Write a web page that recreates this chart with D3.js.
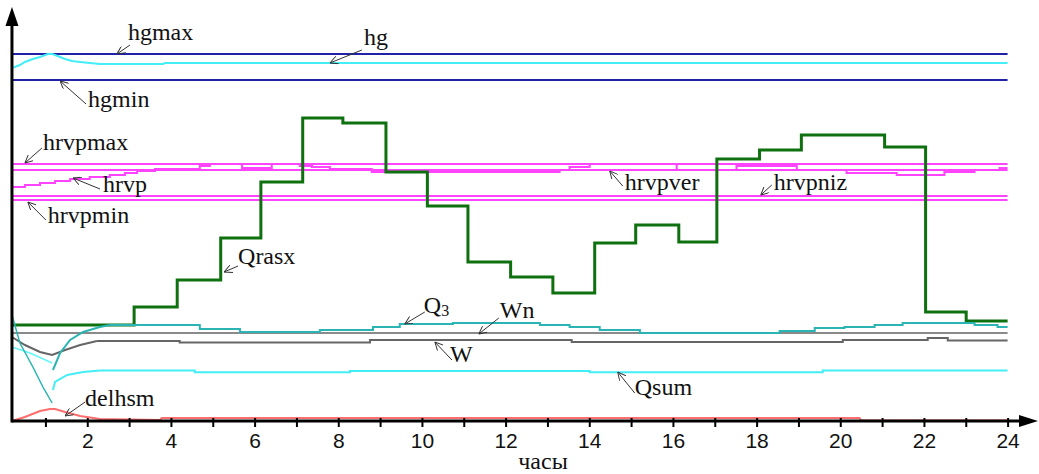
<!DOCTYPE html>
<html>
<head>
<meta charset="utf-8">
<script src="https://cdn.jsdelivr.net/npm/d3@7"></script>
<style>
    body { margin: 0; background: #fff; }
    svg text.note { font-family: "Liberation Serif", "Times New Roman", serif; font-size: 24px; fill: #111; }
    svg .tick text { font-family: "Liberation Sans", Arial, sans-serif; font-size: 21px; fill: #111; }
</style>
</head>
<body>
<svg id="chart" width="1039" height="474"></svg>
<script>
// Hours on the x axis
const tickHours = d3.range(1, 25);
const startHour = 0.2;
const endHour = 24;

// Constant levels (relative units)
const hgmax = 91.75;
const hgmin = 85.25;
const hrvpmax = 64.25;
const hrvpver = 62.75;
const hrvpniz = 56.25;
const hrvpmin = 55.25;

// hg (level) - transient then almost flat
const hgData = [[0.2, 88.25], [0.39, 89], [0.51, 89.75], [0.70, 90.5], [0.87, 91], [1.06, 91.75],
    [1.16, 91.75], [1.23, 91.5], [1.35, 91], [1.47, 90.5], [1.63, 90], [1.83, 89.75],
    [2.06, 89.5], [2.30, 89.25], [3.81, 89.25], [3.86, 89.5], [24, 89.5]];

// hrvp - stepped
const hrvpData = [[0.2, 58.5], [0.51, 59], [0.87, 59.5], [1.23, 60], [1.59, 60.5], [2.06, 61],
    [2.54, 61.5], [2.90, 62], [3.19, 62.5], [3.62, 63], [4.69, 63.75], [4.93, 64.25], [5.70, 63.25],
    [6.41, 64.25], [7.08, 63.75], [7.37, 63.5], [7.80, 63], [8.80, 62.25], [13.29, 62.75],
    [13.53, 63.5], [14.01, 64.25], [16.09, 62.75], [17.52, 63.75], [18.96, 62.75], [20.15, 62],
    [21.35, 61.5], [22.49, 62.25], [23.21, 62.75], [23.81, 63.25], [24, 63.25]];

// Qrasx - hourly steps
const qrasxHours = [0.2, 3.12, 4.15, 5.19, 6.15, 7.15, 8.11, 9.14, 10.13, 11.1, 12.12, 13.13,
    14.13, 15.11, 16.14, 17.05, 18.07, 19.07, 21.06, 22.04, 23.01, 24];
const qrasxValues = [24, 28.5, 35.25, 45.75, 59.75, 75.75, 74.5, 62.25, 53.75, 39.75, 36, 32,
    44.5, 49, 44.75, 65.5, 67.75, 71.5, 68.5, 27.25, 25, 25];

// Q3
const q3Drop = [[0.2, 26.5], [0.39, 19.5], [0.70, 13.5], [0.94, 8.5], [1.16, 4.5]];
const q3Rise = [[1.18, 12.75], [1.35, 17], [1.59, 20.25], [1.90, 22.25], [2.30, 23.5], [2.54, 24]];
const q3Steps = [[2.54, 24], [4.69, 23], [5.65, 22.25], [7.56, 22.75], [8.83, 23.5], [9.47, 24.25],
    [10.74, 24.5], [12.82, 24], [13.53, 23.5], [14.25, 22.75], [15.21, 22], [18.55, 22.5],
    [19.39, 23.25], [20.10, 23.5], [20.82, 24], [21.49, 24.5], [23.21, 24], [23.76, 23.5], [24, 23.5]];

// Wn
const wnData = [[0.2, 22], [24, 22]];

// W
const wCurve = [[0.2, 21], [0.51, 19], [0.87, 17.25], [1.16, 16.5], [1.47, 17.75], [1.83, 19], [2.23, 20]];
const wSteps = [[2.23, 20], [4.21, 19.6], [8.76, 20.25], [13.58, 19.75], [20.06, 20.25],
    [22.09, 20.75], [22.57, 20.1], [24, 20.1]];

// Qsum
const qsumDrop = [[0.2, 18.5], [0.63, 17], [1.16, 14.5]];
const qsumRise = [[1.18, 7.75], [1.23, 9.75], [1.52, 11.5], [1.90, 12.25], [2.30, 12.6]];
const qsumSteps = [[2.30, 12.6], [4.57, 12.2], [8.28, 12.5], [14.01, 12.2], [19.58, 12.6], [24, 12.6]];

// delhsm
const delhsmData = [[0.2, 0], [0.51, 1], [0.87, 2.5], [1.11, 3], [1.23, 3], [1.47, 2.25], [1.83, 1.25],
    [2.30, 0.5], [3.74, 0.25], [3.78, 0.75], [20.46, 0.75], [20.5, 0.1], [24, 0.1]];

// Annotations: label, arrow tip (hour, value), tail and text offsets in px
const notes = [
    { text: 'hgmax', at: [2.71, 91.75], tail: [13, -9], pos: [11, -14] },
    { text: 'hg', at: [7.80, 89.5], tail: [32, -13], pos: [34, -18] },
    { text: 'hgmin', at: [1.35, 85], tail: [26, 23], pos: [28, 26] },
    { text: 'hrvpmax', at: [0.51, 64.5], tail: [17, -15], pos: [18, -13] },
    { text: 'hrvp', at: [1.66, 60.75], tail: [27, 11], pos: [30, 14] },
    { text: 'hrvpmin', at: [0.58, 54.75], tail: [18, 18], pos: [20, 21] },
    { text: 'hrvpver', at: [14.49, 62.5], tail: [13, 15], pos: [15, 19] },
    { text: 'hrvpniz', at: [18.10, 56.5], tail: [11, -10], pos: [13, -5] },
    { text: 'Qrasx', at: [5.27, 37.25], tail: [14, -6], pos: [14, -8] },
    { text: 'Q', sub: '3', at: [9.59, 24.25], tail: [20, -12], pos: [19, -11] },
    { text: 'Wn', at: [11.36, 21.75], tail: [20, -16], pos: [21, -16] },
    { text: 'W', at: [10.31, 19.75], tail: [17, 18], pos: [15, 20] },
    { text: 'Qsum', at: [14.68, 12.25], tail: [17, 21], pos: [17, 23] },
    { text: 'delhsm', at: [1.47, 1.25], tail: [20, -14], pos: [20, -10] }
];

const svg = d3.select('#chart');

const x = d3.scaleLinear().domain([0, 24]).range([3.6, 1007.6]);
const y = d3.scaleLinear().domain([0, 100]).range([421, 21]);

const lineLin = d3.line().x(d => x(d[0])).y(d => y(d[1]));
const lineStep = d3.line().x(d => x(d[0])).y(d => y(d[1])).curve(d3.curveStepAfter);

function draw(data, gen, color, width) {
    svg.append('path')
        .datum(data)
        .attr('d', gen)
        .attr('fill', 'none')
        .attr('stroke', color)
        .attr('stroke-width', width)
        .attr('stroke-linejoin', 'miter');
}

function flat(v) {
    return [[startHour, v], [endHour, v]];
}

// Magenta levels
const magenta = '#ff44ff';
[hrvpmax, hrvpver, hrvpniz, hrvpmin].forEach(v => draw(flat(v), lineLin, magenta, 2));
draw(hrvpData, lineStep, magenta, 2);

// Blue limits and hg
draw(flat(hgmax), lineLin, '#2222a8', 2);
draw(flat(hgmin), lineLin, '#2222a8', 2);
draw(hgData, lineLin, '#44eef6', 2);

// Lower group
draw(qsumDrop, lineLin, '#66f4fa', 1.5);
draw(qsumRise, lineLin, '#44eef6', 2);
draw(qsumSteps, lineStep, '#44eef6', 2);
draw(wnData, lineLin, '#8a8a8a', 2);
draw(wCurve, lineLin, '#666666', 2);
draw(wSteps, lineStep, '#666666', 2);
draw(delhsmData, lineLin, '#ff6e6e', 2);

// Qrasx
const qrasxData = qrasxHours.map((h, i) => [h, qrasxValues[i]]);
draw(qrasxData, lineStep, '#0f700f', 3);

draw(q3Drop, lineLin, '#2ab4b4', 1.5);
draw(q3Rise, lineLin, '#2ab4b4', 2);
draw(q3Steps, lineStep, '#2ab4b4', 2);

// Axes
const xAxis = d3.axisBottom(x)
    .tickValues(tickHours)
    .tickSize(6)
    .tickFormat(d => d % 2 === 0 ? d : '');

const gx = svg.append('g')
    .attr('transform', `translate(0,${y(0)})`)
    .call(xAxis);
gx.select('.domain').remove();
gx.selectAll('.tick line')
    .attr('y1', -3)
    .attr('y2', 6)
    .attr('stroke', '#000')
    .attr('stroke-width', 2);
gx.selectAll('.tick text').attr('y', 12).attr('dy', '0.71em');

svg.append('line')
    .attr('x1', x(startHour)).attr('x2', 1022)
    .attr('y1', y(0)).attr('y2', y(0))
    .attr('stroke', '#000').attr('stroke-width', 3);
svg.append('path')
    .attr('d', `M1038,${y(0)} L1019,${y(0) - 6} L1019,${y(0) + 6} Z`)
    .attr('fill', '#000');

svg.append('line')
    .attr('x1', x(startHour)).attr('x2', x(startHour))
    .attr('y1', y(0) + 1.5).attr('y2', 22)
    .attr('stroke', '#000').attr('stroke-width', 3);
svg.append('path')
    .attr('d', `M${x(startHour)},7 L${x(startHour) - 6.5},26 L${x(startHour) + 6.5},26 Z`)
    .attr('fill', '#000');

svg.append('text')
    .attr('class', 'note')
    .attr('x', 543)
    .attr('y', 469)
    .attr('text-anchor', 'middle')
    .text('часы');

// Arrow marker
svg.append('defs').append('marker')
    .attr('id', 'arrow')
    .attr('viewBox', '0 0 10 10')
    .attr('refX', 10).attr('refY', 5)
    .attr('markerWidth', 8).attr('markerHeight', 8)
    .attr('markerUnits', 'userSpaceOnUse')
    .attr('orient', 'auto-start-reverse')
    .append('path')
    .attr('d', 'M0,0 L10,5 L0,10')
    .attr('fill', 'none')
    .attr('stroke', '#333')
    .attr('stroke-width', 1.2);

const noteG = svg.append('g');
notes.forEach(n => {
    const tx = x(n.at[0]);
    const ty = y(n.at[1]);
    noteG.append('line')
        .attr('x1', tx + n.tail[0]).attr('y1', ty + n.tail[1])
        .attr('x2', tx).attr('y2', ty)
        .attr('stroke', '#333')
        .attr('stroke-width', 1)
        .attr('marker-end', 'url(#arrow)');
    const t = noteG.append('text')
        .attr('class', 'note')
        .attr('x', tx + n.pos[0])
        .attr('y', ty + n.pos[1])
        .text(n.text);
    if (n.sub) {
        t.append('tspan')
            .attr('dy', 3)
            .attr('font-size', '16px')
            .text(n.sub);
    }
});
</script>
</body>
</html>
